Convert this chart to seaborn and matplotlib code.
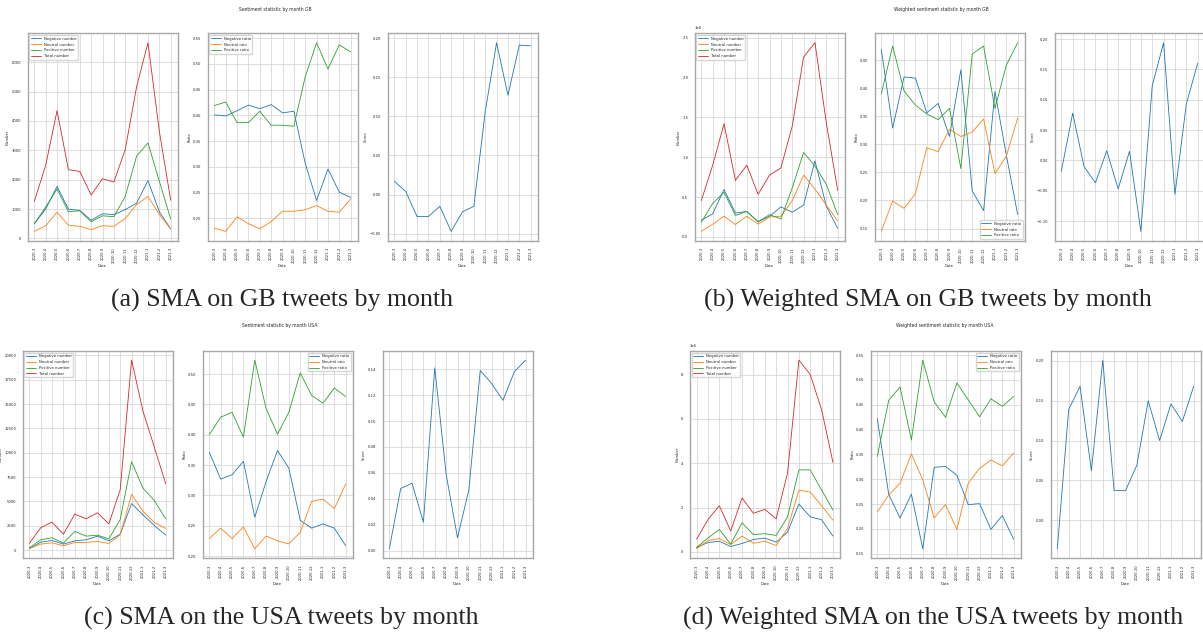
import numpy as np
import pandas as pd
import seaborn as sns
import matplotlib.pyplot as plt

months = ["2020-3", "2020-4", "2020-5", "2020-6", "2020-7", "2020-8", "2020-9",
          "2020-10", "2020-11", "2020-12", "2021-1", "2021-2", "2021-3"]

# (a) SMA GB
gb_neg_num = [500, 1000, 1770, 1000, 950, 620, 840, 810, 980, 1200, 1970, 910, 320]
gb_neu_num = [240, 430, 890, 450, 410, 300, 430, 410, 680, 1150, 1430, 820, 320]
gb_pos_num = [500, 1070, 1680, 910, 940, 570, 770, 740, 1430, 2800, 3250, 1950, 660]
gb_tot_num = [1260, 2490, 4350, 2340, 2280, 1480, 2030, 1920, 3020, 5160, 6660, 3650, 1300]
gb_neg_ratio = [0.401, 0.399, 0.409, 0.420, 0.413, 0.421, 0.405, 0.408, 0.307, 0.235, 0.296, 0.251, 0.241]
gb_neu_ratio = [0.181, 0.175, 0.203, 0.190, 0.180, 0.194, 0.214, 0.214, 0.217, 0.225, 0.214, 0.212, 0.238]
gb_pos_ratio = [0.419, 0.426, 0.386, 0.386, 0.408, 0.381, 0.381, 0.379, 0.475, 0.541, 0.490, 0.537, 0.523]
gb_score = [0.017, 0.004, -0.028, -0.028, -0.015, -0.047, -0.022, -0.015, 0.106, 0.194, 0.127, 0.191, 0.190]

# (b) weighted SMA GB
wgb_neg_num = [0.21e6, 0.29e6, 0.595e6, 0.30e6, 0.32e6, 0.19e6, 0.26e6, 0.377e6, 0.31e6, 0.40e6, 0.955e6, 0.385e6, 0.11e6]
wgb_neu_num = [0.07e6, 0.16e6, 0.26e6, 0.155e6, 0.26e6, 0.16e6, 0.25e6, 0.26e6, 0.455e6, 0.775e6, 0.60e6, 0.40e6, 0.20e6]
wgb_pos_num = [0.185e6, 0.42e6, 0.56e6, 0.27e6, 0.32e6, 0.19e6, 0.28e6, 0.225e6, 0.615e6, 1.06e6, 0.89e6, 0.66e6, 0.28e6]
wgb_tot_num = [0.456e6, 0.90e6, 1.42e6, 0.71e6, 0.90e6, 0.535e6, 0.775e6, 0.865e6, 1.39e6, 2.257e6, 2.437e6, 1.43e6, 0.585e6]
wgb_neg_ratio = [0.469, 0.329, 0.420, 0.418, 0.356, 0.373, 0.314, 0.433, 0.217, 0.182, 0.394, 0.281, 0.175]
wgb_neu_ratio = [0.145, 0.199, 0.186, 0.212, 0.294, 0.287, 0.327, 0.314, 0.322, 0.345, 0.248, 0.279, 0.347]
wgb_pos_ratio = [0.390, 0.475, 0.395, 0.370, 0.354, 0.344, 0.364, 0.257, 0.461, 0.475, 0.364, 0.441, 0.481]
wgb_score = [-0.018, 0.078, -0.010, -0.037, 0.016, -0.047, 0.015, -0.117, 0.123, 0.194, -0.056, 0.093, 0.160]

# (c) SMA USA
us_neg_num = [140, 820, 990, 620, 960, 1060, 1440, 960, 1640, 4790, 3630, 2530, 1540]
us_neu_num = [170, 620, 750, 450, 790, 790, 890, 685, 1575, 5720, 4000, 2840, 2230]
us_pos_num = [240, 1060, 1270, 720, 1920, 1440, 1540, 1160, 3150, 9080, 6370, 5100, 3220]
us_tot_num = [685, 2300, 2880, 1640, 3700, 3220, 3840, 2700, 6230, 19520, 14280, 10580, 6820]
us_neg_ratio = [0.371, 0.327, 0.334, 0.356, 0.264, 0.323, 0.374, 0.345, 0.259, 0.246, 0.253, 0.246, 0.217]
us_neu_ratio = [0.229, 0.246, 0.229, 0.248, 0.212, 0.233, 0.225, 0.220, 0.239, 0.290, 0.294, 0.278, 0.319]
us_pos_ratio = [0.400, 0.429, 0.437, 0.396, 0.523, 0.443, 0.401, 0.437, 0.502, 0.465, 0.452, 0.477, 0.463]
us_score = [0.0015, 0.048, 0.052, 0.022, 0.141, 0.059, 0.010, 0.047, 0.139, 0.129, 0.116, 0.138, 0.147]

# (d) weighted SMA USA
wus_neg_num = [0.20e6, 0.42e6, 0.48e6, 0.24e6, 0.38e6, 0.56e6, 0.62e6, 0.44e6, 0.89e6, 2.16e6, 1.58e6, 1.45e6, 0.71e6]
wus_neu_num = [0.14e6, 0.51e6, 0.60e6, 0.33e6, 0.71e6, 0.39e6, 0.48e6, 0.29e6, 1.06e6, 2.78e6, 2.70e6, 2.08e6, 1.43e6]
wus_pos_num = [0.20e6, 0.63e6, 1.01e6, 0.35e6, 1.31e6, 0.78e6, 0.82e6, 0.74e6, 1.58e6, 3.70e6, 3.70e6, 2.79e6, 1.89e6]
wus_tot_num = [0.57e6, 1.46e6, 2.08e6, 0.94e6, 2.43e6, 1.74e6, 1.92e6, 1.49e6, 3.55e6, 8.65e6, 8.00e6, 6.41e6, 4.03e6]
wus_neg_ratio = [0.422, 0.270, 0.222, 0.270, 0.160, 0.324, 0.326, 0.308, 0.249, 0.251, 0.199, 0.227, 0.179]
wus_neu_ratio = [0.234, 0.268, 0.292, 0.351, 0.299, 0.222, 0.249, 0.199, 0.292, 0.322, 0.339, 0.327, 0.353]
wus_pos_ratio = [0.346, 0.459, 0.486, 0.379, 0.540, 0.456, 0.425, 0.494, 0.460, 0.426, 0.462, 0.447, 0.467]
wus_score = [-0.036, 0.139, 0.168, 0.062, 0.201, 0.037, 0.037, 0.069, 0.150, 0.100, 0.146, 0.124, 0.168]

W, H = 1203, 635
FS = 2.7
LW = 0.6
colors = ["#1f77b4", "#ff7f0e", "#2ca02c", "#d62728"]

sns.set_style("whitegrid", {"axes.edgecolor": "#a8a8a8", "grid.color": "#d8d8d8"})
plt.rcParams["axes.linewidth"] = 1.0
plt.rcParams["grid.linewidth"] = 0.6
plt.rcParams["xtick.major.pad"] = 1
plt.rcParams["ytick.major.pad"] = 1
plt.rcParams["axes.labelpad"] = 1.2

fig = plt.figure(figsize=(W / 100, H / 100), dpi=100)


def px_axes(left, top, w=150, h=207.5):
    return fig.add_axes([left / W, 1 - (top + h) / H, w / W, h / H])


def style(ax, ylabel):
    ax.set_xlabel("Date", fontsize=FS)
    ax.set_ylabel(ylabel, fontsize=FS)
    ax.tick_params(axis="x", labelrotation=90, labelsize=FS)
    ax.tick_params(axis="y", labelsize=FS)
    ax.yaxis.get_offset_text().set_fontsize(FS)


def panel(lefts, top, nums, ratios, score, loc_num, loc_ratio):
    ax1 = px_axes(lefts[0], top)
    names = ["Negative number", "Neutral number", "Positive number", "Total number"]
    for vals, name, c in zip(nums, names, colors):
        sns.lineplot(x=months, y=vals, label=name, color=c, lw=LW, ax=ax1)
    ax1.legend(loc=loc_num, fontsize=FS, handlelength=2.6)
    style(ax1, "Number")

    ax2 = px_axes(lefts[1], top)
    names = ["Negative ratio", "Neutral raio", "Positive ratio"]
    for vals, name, c in zip(ratios, names, colors):
        sns.lineplot(x=months, y=vals, label=name, color=c, lw=LW, ax=ax2)
    ax2.legend(loc=loc_ratio, fontsize=FS, handlelength=2.6)
    style(ax2, "Ratio")

    ax3 = px_axes(lefts[2], top)
    sns.lineplot(x=months, y=score, color=colors[0], lw=LW, ax=ax3)
    style(ax3, "Score")


panel([27.5, 207.5, 387.5], 33.3,
      [gb_neg_num, gb_neu_num, gb_pos_num, gb_tot_num],
      [gb_neg_ratio, gb_neu_ratio, gb_pos_ratio], gb_score, "upper left", "upper left")
panel([694.5, 874.5, 1054.5], 33.3,
      [wgb_neg_num, wgb_neu_num, wgb_pos_num, wgb_tot_num],
      [wgb_neg_ratio, wgb_neu_ratio, wgb_pos_ratio], wgb_score, "upper left", "lower right")
panel([22.5, 202.5, 382.5], 350.7,
      [us_neg_num, us_neu_num, us_pos_num, us_tot_num],
      [us_neg_ratio, us_neu_ratio, us_pos_ratio], us_score, "upper left", "upper right")
panel([689.8, 870.5, 1050.5], 350.7,
      [wus_neg_num, wus_neu_num, wus_pos_num, wus_tot_num],
      [wus_neg_ratio, wus_neu_ratio, wus_pos_ratio], wus_score, "upper left", "upper right")

titles = [("Sentiment statistic by month GB", 275, 9),
          ("Weighted sentiment statistic by month GB", 941, 9),
          ("Sentiment statistic by month USA", 280, 326),
          ("Weighted sentiment statistic by month USA", 945, 326)]
for t, x, y in titles:
    fig.text(x / W, 1 - y / H, t, fontsize=FS * 1.2, ha="center", va="center")

captions = [("(a) SMA on GB tweets by month", 282, 300),
            ("(b) Weighted SMA on GB tweets by month", 928, 300),
            ("(c) SMA on the USA tweets by month", 281, 618),
            ("(d) Weighted SMA on the USA tweets by month", 933, 618)]
for t, x, y in captions:
    fig.text(x / W, 1 - y / H, t, fontsize=18.6, family="Liberation Serif",
             ha="center", va="center")

fig.savefig("out.png", dpi=100)
